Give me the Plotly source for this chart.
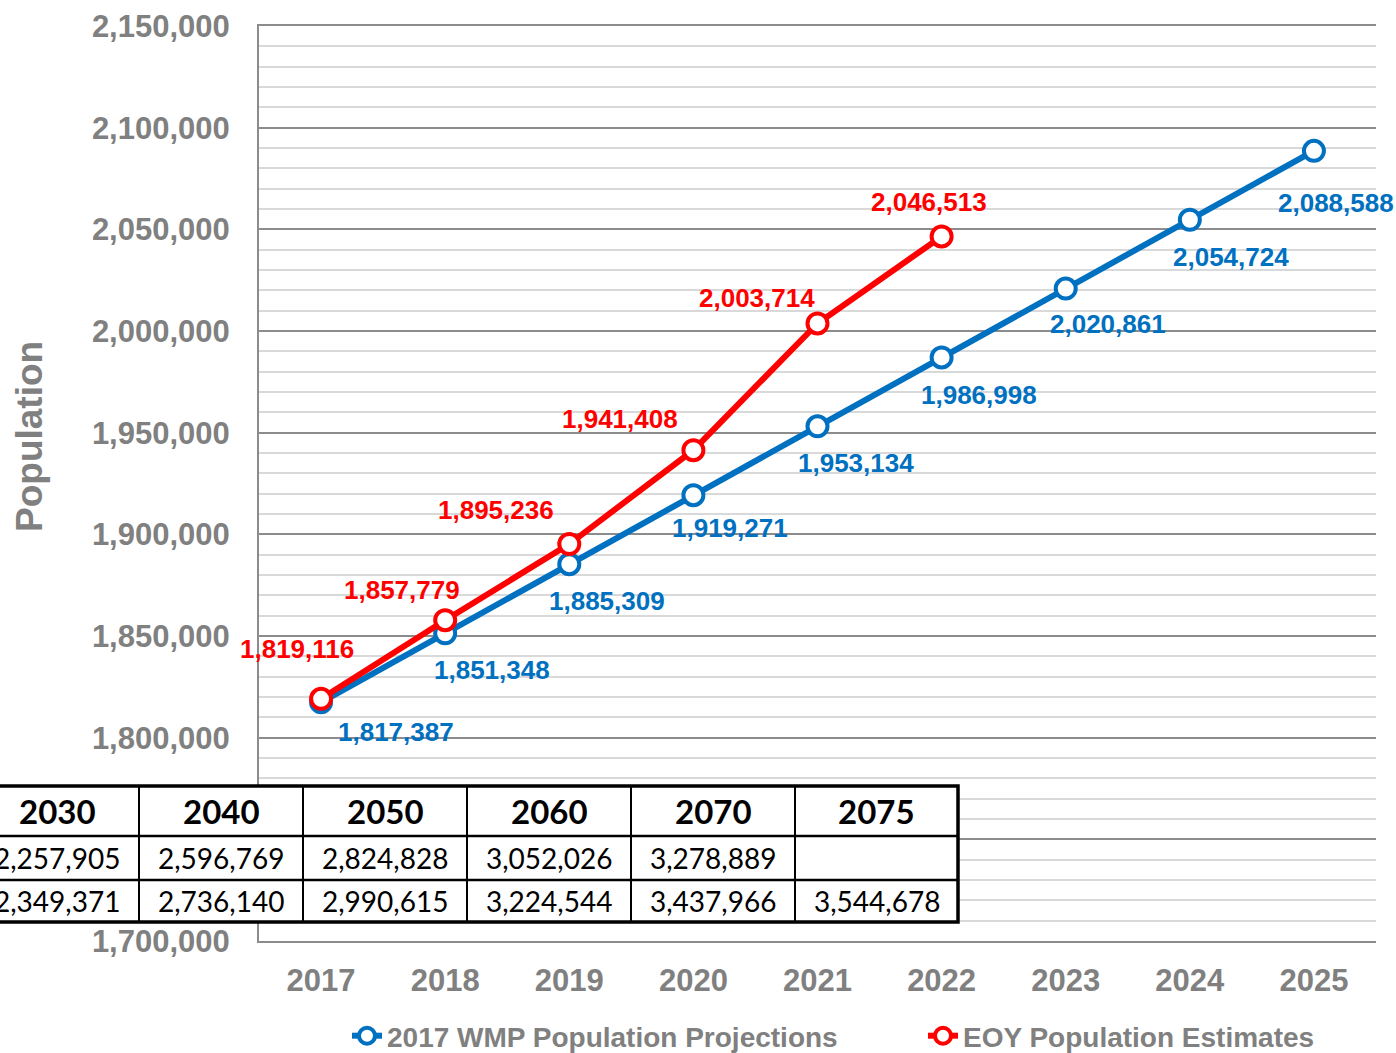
import plotly.graph_objects as go

years = ['2017', '2018', '2019', '2020', '2021', '2022', '2023', '2024', '2025']
wmp_projection = [1817387, 1851348, 1885309, 1919271, 1953134, 1986998, 2020861, 2054724, 2088588]
eoy_years = ['2017', '2018', '2019', '2020', '2021', '2022']
eoy_estimate = [1819116, 1857779, 1895236, 1941408, 2003714, 2046513]

table_years = ['2030', '2040', '2050', '2060', '2070', '2075']
table_wmp = ['2,257,905', '2,596,769', '2,824,828', '3,052,026', '3,278,889', '']
table_eoy = ['2,349,371', '2,736,140', '2,990,615', '3,224,544', '3,437,966', '3,544,678']

BLUE = '#0070C0'
RED = '#FF0000'
GREY = '#808080'
FONT = 'Liberation Sans, Arial, sans-serif'

# label offsets in px (dx right, dy down) - hand placed like the excel chart
blue_off = [(75, 30), (47, 37), (38, 37), (37, 33), (38, 37), (37, 38), (42, 35), (41, 37), (22, 52)]
red_off = [(-24, -50), (-43, -30), (-73, -34), (-73, -31), (-61, -25), (-13, -34)]

# figure fills the whole page (body margin removed below)
W, H = 1396, 1053
L, R, T, B = 259, 1376, 26, 941


def px(x):
    return (x - L) / (R - L)


def py(y):
    return (B - y) / (B - T)


fig = go.Figure()
fig.add_trace(go.Scatter(
    x=years, y=wmp_projection, mode='lines+markers',
    name='2017 WMP Population Projections', legend='legend',
    line=dict(color=BLUE, width=6),
    marker=dict(symbol='circle', size=20, color='white', line=dict(color=BLUE, width=4)),
))
fig.add_trace(go.Scatter(
    x=eoy_years, y=eoy_estimate, mode='lines+markers',
    name='EOY Population Estimates', legend='legend2',
    line=dict(color=RED, width=6),
    marker=dict(symbol='circle', size=20, color='white', line=dict(color=RED, width=4)),
))

annotations = []
for i, (v, (dx, dy)) in enumerate(zip(wmp_projection, blue_off)):
    annotations.append(dict(x=i, y=v, text=f"{v:,}", showarrow=False, xshift=dx, yshift=-dy,
                            xanchor='center', yanchor='middle',
                            font=dict(family=FONT, size=26, color=BLUE, weight='bold')))
for i, (v, (dx, dy)) in enumerate(zip(eoy_estimate, red_off)):
    annotations.append(dict(x=i, y=v, text=f"{v:,}", showarrow=False, xshift=dx, yshift=-dy,
                            xanchor='center', yanchor='middle',
                            font=dict(family=FONT, size=26, color=RED, weight='bold')))

# axis title, placed like the original (not centred on the plot)
annotations.append(dict(x=px(30), y=py(437), xref='paper', yref='paper', text='Population',
                        textangle=-90, showarrow=False, xanchor='center', yanchor='middle',
                        font=dict(family=FONT, size=37, color=GREY, weight='bold')))

# table overlay (drawn in screen px, converted to paper)
col_edges = [-25, 139, 303, 467, 631, 795, 958]
row_edges = [786, 836, 880, 922]
shapes = [dict(type='rect', xref='paper', yref='paper', layer='above',
               x0=px(col_edges[0]), x1=px(col_edges[-1]), y0=py(row_edges[-1]), y1=py(row_edges[0]),
               fillcolor='white', line=dict(color='black', width=3.5))]
for xe in col_edges[1:-1]:
    shapes.append(dict(type='line', xref='paper', yref='paper', layer='above',
                       x0=px(xe), x1=px(xe), y0=py(row_edges[-1]), y1=py(row_edges[0]),
                       line=dict(color='black', width=2)))
for ye in row_edges[1:-1]:
    shapes.append(dict(type='line', xref='paper', yref='paper', layer='above',
                       x0=px(col_edges[0]), x1=px(col_edges[-1]), y0=py(ye), y1=py(ye),
                       line=dict(color='black', width=2.5)))

rows = [table_years, table_wmp, table_eoy]
for r, row in enumerate(rows):
    yc = (row_edges[r] + row_edges[r + 1]) / 2
    for c, txt in enumerate(row):
        xc = (col_edges[c] + col_edges[c + 1]) / 2
        annotations.append(dict(
            x=px(xc), y=py(yc), xref='paper', yref='paper', text=txt, showarrow=False,
            xanchor='center', yanchor='middle',
            font=dict(family='Lato, sans-serif', size=33 if r == 0 else 28, color='black',
                      weight='bold' if r == 0 else 'normal')))

legend_font = dict(family=FONT, size=28, color=GREY, weight='bold')
fig.update_layout(
    width=W, height=H,
    margin=dict(l=L, r=W - R, t=T, b=H - B, pad=0, autoexpand=False),
    paper_bgcolor='white', plot_bgcolor='white',
    font=dict(family=FONT, color=GREY),
    showlegend=True,
    legend=dict(orientation='h', x=px(347), xanchor='left', y=py(1036), yanchor='middle',
                font=legend_font, itemwidth=30),
    legend2=dict(orientation='h', x=px(923), xanchor='left', y=py(1036), yanchor='middle',
                 font=legend_font, itemwidth=30),
    xaxis=dict(
        type='category', range=[-0.5, 8.5], showgrid=False,
        showline=True, mirror=True, linecolor='#8c8c8c', linewidth=2, ticks='',
        ticklabelstandoff=11,
        tickfont=dict(family=FONT, size=31, color=GREY, weight='bold'),
    ),
    yaxis=dict(
        range=[1700000, 2150000], dtick=50000, tickformat=',d',
        showline=True, linecolor='#8c8c8c', linewidth=2, ticks='',
        gridcolor='#8c8c8c', gridwidth=1.5, zeroline=False,
        minor=dict(dtick=10000, showgrid=True, gridcolor='#d9d9d9', gridwidth=2),
        ticklabelstandoff=21,
        tickfont=dict(family=FONT, size=31, color=GREY, weight='bold'),
    ),
    annotations=annotations,
    shapes=shapes,
)

fig.write_html("out.html", config={'displayModeBar': False},
               post_script="document.body.style.margin='0';document.body.style.overflow='hidden';")
